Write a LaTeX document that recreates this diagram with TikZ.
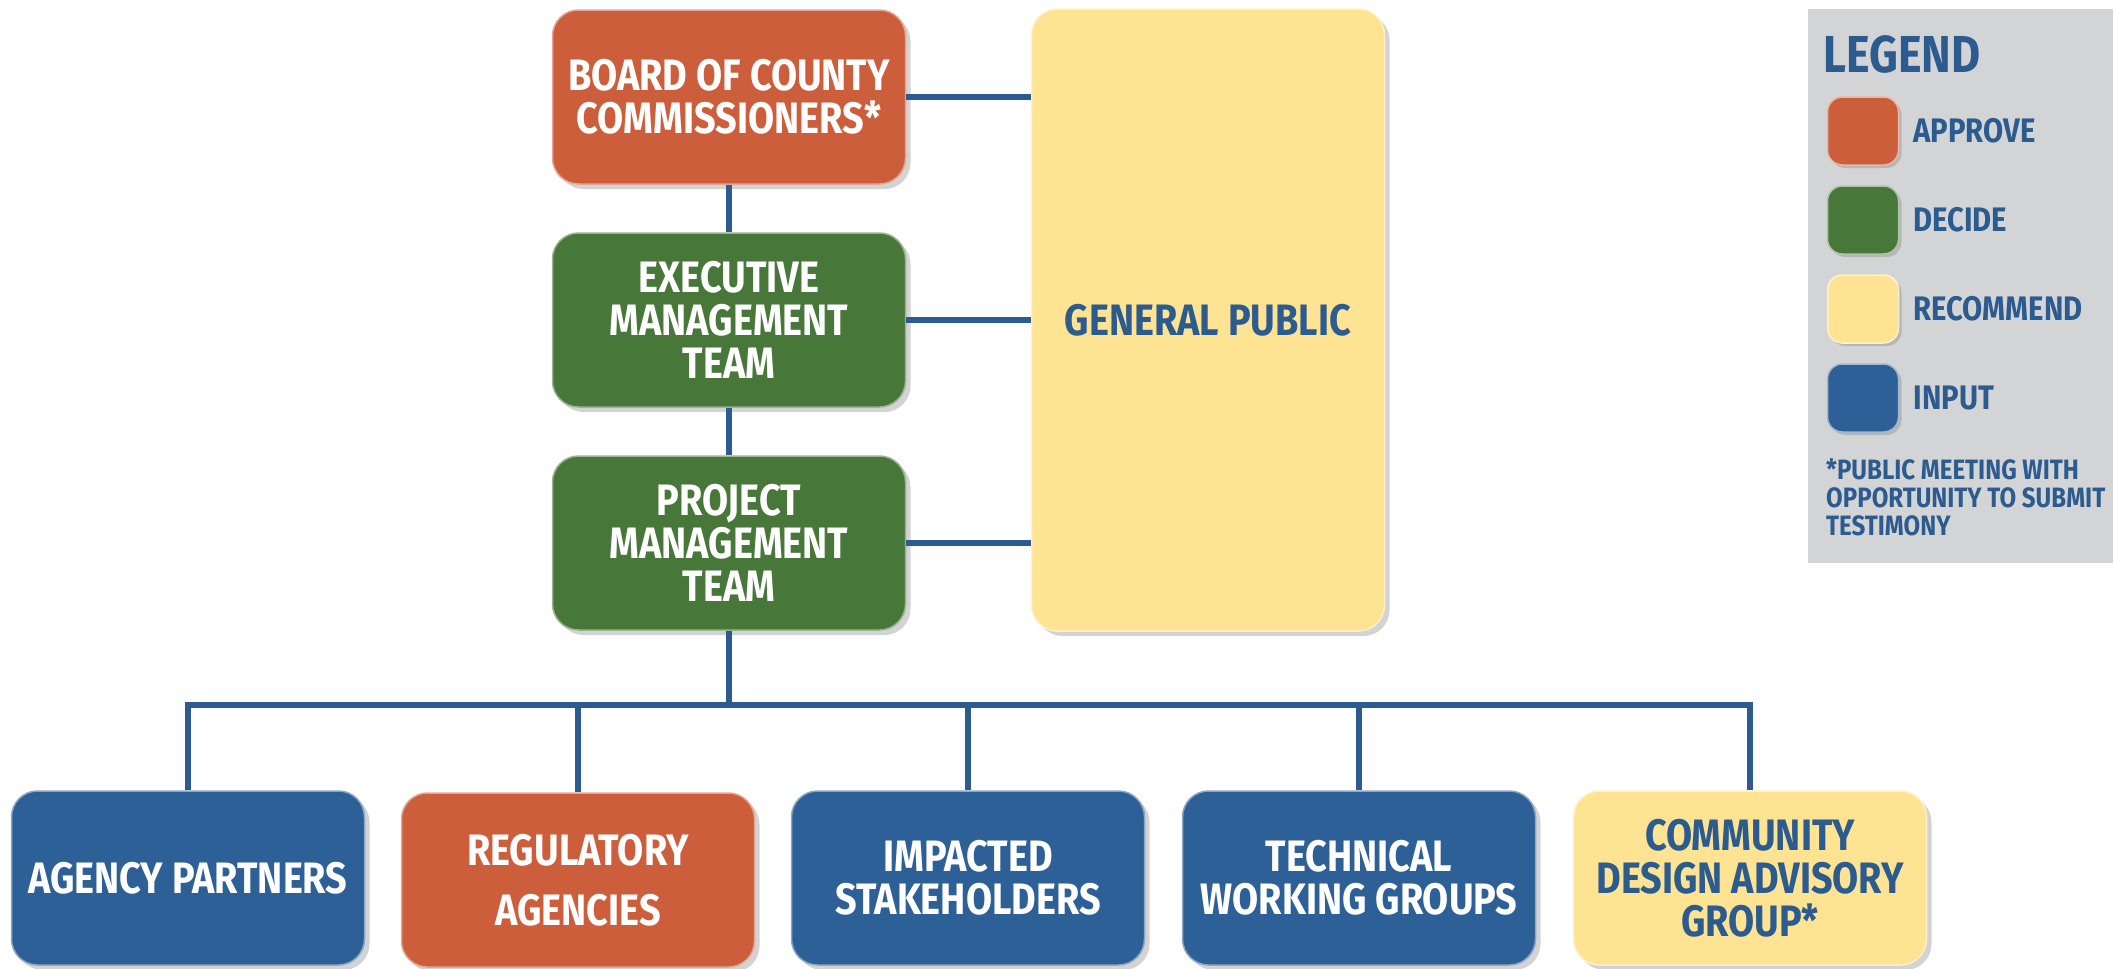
\documentclass[tikz,border=0pt]{standalone}
\usepackage{fontspec}
\setmainfont{Fira Sans}
\newfontfamily\chartfont[FakeStretch=0.86]{Fira Sans}
\usetikzlibrary{shadows}
\definecolor{approve}{HTML}{CC5E3C}
\definecolor{decide}{HTML}{48773A}
\definecolor{recommend}{HTML}{FDE392}
\definecolor{input}{HTML}{2D6096}
\definecolor{ink}{HTML}{2B5B8F}
\definecolor{legendbg}{HTML}{D3D4D6}
\newcommand\boxtext{\chartfont\bfseries\fontsize{44}{43}\selectfont}
\newcommand\legtext{\chartfont\bfseries\fontsize{34}{36}\selectfont}

\begin{document}
\begin{tikzpicture}[x=1pt, y=-1pt,
  box/.style = {rounded corners=26pt, minimum width=353pt, minimum height=174pt,
    align=center, text=white, font=\boxtext, line width=1.5pt,
    drop shadow={shadow xshift=5pt, shadow yshift=-5pt, opacity=0.35}},
  approvebox/.style = {box, fill=approve, draw=approve!55!white},
  decidebox/.style = {box, fill=decide, draw=decide!55!white},
  recommendbox/.style = {box, fill=recommend, draw=recommend!50!white, text=ink},
  inputbox/.style = {box, fill=input, draw=input!55!white},
  legsq/.style = {rounded corners=15pt, minimum width=71pt, minimum height=68pt,
    line width=1.5pt, drop shadow={shadow xshift=3pt, shadow yshift=-3pt, opacity=0.35}},
  leglabel/.style = {anchor=west, text=ink, font=\legtext},
  link/.style = {draw=ink, line width=5.5pt}]
\useasboundingbox (0,0) rectangle (2113,969);

% top column
\node[approvebox] (bocc) at (729,97) {BOARD OF COUNTY\\COMMISSIONERS*};
\node[decidebox] (emt) at (729,320) {EXECUTIVE\\MANAGEMENT\\TEAM};
\node[decidebox] (pmt) at (729,543) {PROJECT\\MANAGEMENT\\TEAM};
\node[recommendbox, minimum height=622pt] (pub) at (1208,320) {GENERAL PUBLIC};

% bottom row
\node[inputbox] (ap) at (188,878) {AGENCY PARTNERS};
\node[approvebox] (ra) at (578,880) {REGULATORY\\[17pt]AGENCIES};
\node[inputbox] (is) at (968,878) {IMPACTED\\STAKEHOLDERS};
\node[inputbox] (twg) at (1359,878) {TECHNICAL\\WORKING GROUPS};
\node[recommendbox] (cdag) at (1750,878) {COMMUNITY\\DESIGN ADVISORY\\GROUP*};

\coordinate (bus) at (729,705);

\draw[link] (bocc) -- (emt);
\draw[link] (emt) -- (pmt);
\draw[link] (bocc) -- (bocc -| pub.west);
\draw[link] (emt) -- (emt -| pub.west);
\draw[link] (pmt) -- (pmt -| pub.west);
\draw[link] (pmt) -- (bus);
\draw[link] (ap.north) |- (bus) -| (cdag.north);
\foreach \n in {ra,is,twg}
  \draw[link] (\n.north) -- (\n.north |- bus);

% legend
\fill[legendbg] (1808,9) rectangle (2113,563);
\node[anchor=west, text=ink, font=\chartfont\bfseries\fontsize{52}{54}\selectfont] (legtitle) at (1820,54) {LEGEND};
\node[legsq, fill=approve, draw=approve!45!white] (lapprove) at (1863,131) {};
\node[legsq, fill=decide, draw=decide!45!white] (ldecide) at (1863,220) {};
\node[legsq, fill=recommend, draw=recommend!45!white] (lrecommend) at (1863,309) {};
\node[legsq, fill=input, draw=input!45!white] (linput) at (1863,398) {};
\node[leglabel] at (1910,131) {APPROVE};
\node[leglabel] at (1910,220) {DECIDE};
\node[leglabel] at (1910,309) {RECOMMEND};
\node[leglabel] at (1910,398) {INPUT};
\node[anchor=north west, text=ink, align=left, inner xsep=0pt,
  font=\chartfont\bfseries\fontsize{28}{28}\selectfont] (note) at (1826,455)
  {*PUBLIC MEETING WITH\\OPPORTUNITY TO SUBMIT\\TESTIMONY};
\end{tikzpicture}
\end{document}
